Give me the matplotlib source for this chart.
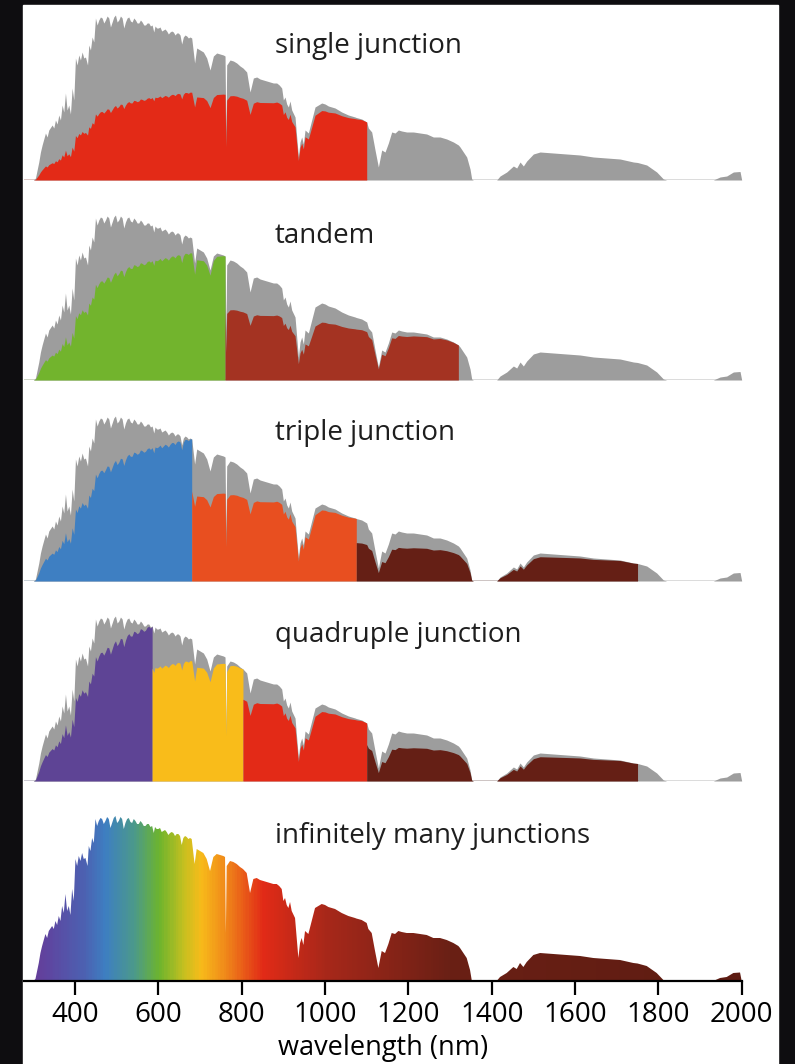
import numpy as np
import matplotlib
matplotlib.use("Agg")
import matplotlib.pyplot as plt
from matplotlib.colors import LinearSegmentedColormap
from matplotlib.patches import Rectangle, Polygon

plt.rcParams['font.family'] = ['Open Sans', 'DejaVu Sans']

# Solar spectrum (wavelength in nm, irradiance in arb. units)
wavelength = [278, 300, 305, 313, 317, 321, 329, 333, 337, 345, 349, 353, 357, 361, 365,
              369, 373, 377, 381, 385, 389, 393, 397, 401, 405, 409, 413, 417, 421, 425,
              430, 433, 437, 441, 445, 449, 453, 457, 461, 465, 469, 473, 477, 481, 485,
              489, 493, 497, 501, 505, 509, 513, 517, 521, 525, 529, 533, 537, 541, 545,
              549, 553, 557, 561, 565, 569, 573, 577, 581, 585, 589, 592, 596, 600, 604,
              608, 612, 616, 620, 624, 628, 632, 636, 640, 644, 648, 652, 656, 660, 664,
              668, 672, 676, 680, 687, 692, 700, 708, 716, 724, 732, 740, 748, 756, 760,
              762, 764, 772, 780, 788, 796, 803, 812, 820, 828, 836, 844, 852, 860, 868,
              876, 884, 890, 896, 900, 904, 908, 912, 916, 920, 928, 936, 940, 944, 948,
              952, 960, 968, 976, 984, 992, 1000, 1008, 1024, 1040, 1056, 1072, 1075, 1088, 1100,
              1104, 1112, 1120, 1128, 1136, 1144, 1152, 1160, 1168, 1176, 1184, 1196, 1212, 1228, 1244,
              1260, 1276, 1292, 1308, 1320, 1324, 1340, 1348, 1352, 1356, 1412, 1420, 1436, 1452, 1460,
              1468, 1476, 1484, 1500, 1516, 1548, 1580, 1612, 1644, 1676, 1708, 1740, 1750, 1772, 1796,
              1812, 1820, 1932, 1948, 1964, 1980, 1996, 2000]
irradiance = [0, 0, 0.02, 0.18, 0.28, 0.35, 0.47, 0.43, 0.50, 0.55, 0.52, 0.60, 0.56, 0.65, 0.60,
              0.75, 0.68, 0.87, 0.70, 0.75, 0.66, 0.92, 0.80, 1.22, 1.15, 1.25, 1.20, 1.28, 1.22, 1.23,
              1.15, 1.35, 1.30, 1.43, 1.38, 1.62, 1.55, 1.60, 1.63, 1.62, 1.57, 1.60, 1.64, 1.62, 1.53,
              1.58, 1.63, 1.65, 1.58, 1.60, 1.64, 1.62, 1.52, 1.58, 1.62, 1.63, 1.59, 1.58, 1.62, 1.60,
              1.57, 1.57, 1.60, 1.58, 1.55, 1.55, 1.57, 1.57, 1.54, 1.55, 1.48, 1.54, 1.52, 1.52, 1.53,
              1.49, 1.50, 1.51, 1.49, 1.46, 1.48, 1.49, 1.48, 1.45, 1.47, 1.47, 1.45, 1.36, 1.43, 1.45,
              1.44, 1.42, 1.43, 1.42, 1.17, 1.32, 1.30, 1.28, 1.22, 1.10, 1.24, 1.27, 1.26, 1.25, 1.24,
              0.48, 1.15, 1.20, 1.19, 1.17, 1.14, 1.12, 1.08, 0.88, 1.02, 1.03, 1.01, 1.00, 0.99, 0.98,
              0.97, 0.97, 0.95, 0.92, 0.80, 0.83, 0.76, 0.73, 0.79, 0.70, 0.63, 0.23, 0.38, 0.43, 0.36,
              0.50, 0.47, 0.60, 0.73, 0.75, 0.77, 0.76, 0.74, 0.72, 0.68, 0.65, 0.63, 0.625, 0.61, 0.58,
              0.52, 0.48, 0.30, 0.13, 0.30, 0.28, 0.37, 0.48, 0.47, 0.50, 0.49, 0.48, 0.48, 0.47, 0.46,
              0.43, 0.43, 0.41, 0.38, 0.35, 0.33, 0.23, 0.11, 0.01, 0, 0, 0.04, 0.08, 0.14, 0.12,
              0.18, 0.14, 0.19, 0.26, 0.28, 0.27, 0.26, 0.25, 0.23, 0.22, 0.21, 0.18, 0.175, 0.15, 0.08,
              0.01, 0, 0, 0.03, 0.04, 0.08, 0.085, 0]

# Panels: title, band-gap edges (nm) of each junction, colour of each junction
titles = ["single junction", "tandem", "triple junction", "quadruple junction",
          "infinitely many junctions"]
gap_edges = [[1100],
             [760, 1320],
             [680, 1075, 1750],
             [585, 803, 1100, 1750]]
gap_colors = [["#e32a17"],
              ["#72b42d", "#a43322"],
              ["#3e7fc2", "#e84f20", "#651f15"],
              ["#5e4495", "#f9bc1a", "#e32a17", "#651f15"]]

# Colour along the wavelength axis for the last panel
grad_wl = [278, 330, 420, 470, 540, 600, 660, 700, 760, 850, 1000, 1300, 2000]
grad_colors = ["#6a3a96", "#5f45a0", "#4c62b2", "#3e7fc2", "#4c9a8a", "#6db52e",
               "#c8c020", "#f8bb1a", "#f0881a", "#e22b17", "#a8281a", "#6a2015", "#5e1c12"]

wl = np.array(wavelength, dtype=float)
spec = np.array(irradiance)
GRAY = "#9d9d9d"

fig = plt.figure(figsize=(7.95, 10.64), dpi=100, facecolor="#0e0d10")
fig.patches.append(Rectangle((23 / 795, 0), 755 / 795, 1059 / 1064,
                             transform=fig.transFigure, color="white", zorder=-10))

baselines = [180, 380, 581, 781, 981]
label_y = [1.27, 1.37, 1.41, 1.39, 1.38]
left = 24.2 / 795
width = (741.7 - 24.2) / 795

for k, title in enumerate(titles):
    b = baselines[k]
    ax = fig.add_axes([left, 1 - b / 1064, width, 195 / 1064])
    ax.set_xlim(278, 2000)
    ax.set_ylim(0, 1.95)
    ax.patch.set_alpha(0)
    for s in ["top", "left", "right"]:
        ax.spines[s].set_visible(False)
    ax.set_yticks([])

    if k < 4:
        ax.spines["bottom"].set_visible(False)
        ax.set_xticks([])
        ax.axhline(0, color="#d6d6d6", lw=1.2, zorder=1)
        ax.fill_between(wl, 0, spec, color=GRAY, lw=0, zorder=2)
        lo = 278
        for edge, col in zip(gap_edges[k], gap_colors[k]):
            m = (wl >= lo) & (wl <= edge)
            # photon energy limited by band gap: only lambda/lambda_gap is converted
            ax.fill_between(wl[m], 0, spec[m] * wl[m] / edge, color=col, lw=0, zorder=3)
            ax.plot([lo, edge], [0, 0], color=col, lw=1.0, alpha=0.6, zorder=3)
            lo = edge
    else:
        pos = [(w - 278) / (2000 - 278) for w in grad_wl]
        cmap = LinearSegmentedColormap.from_list("spec", list(zip(pos, grad_colors)))
        img = ax.imshow(np.linspace(0, 1, 600)[None, :], extent=(278, 2000, 0, 1.95),
                        aspect="auto", cmap=cmap, origin="lower", zorder=2)
        poly = Polygon(np.column_stack([wl, spec]), closed=True, facecolor="none",
                       edgecolor="none", transform=ax.transData)
        ax.add_patch(poly)
        img.set_clip_path(poly)
        ax.spines["bottom"].set_linewidth(1.6)
        ax.spines["bottom"].set_zorder(5)
        ax.set_xticks([400, 600, 800, 1000, 1200, 1400, 1600, 1800, 2000])
        ax.tick_params(axis="x", direction="out", length=10, width=1.6, labelsize=20,
                       pad=4.5, colors="black")

    ax.text(880, label_y[k], title, fontsize=20, color="#1e1e1e", ha="left",
            va="baseline", zorder=6)

fig.text(383 / 795, 1 - 1048 / 1064, "wavelength (nm)", fontsize=19.5,
         ha="center", va="center", color="black")

fig.savefig("out.png", dpi=100, facecolor=fig.get_facecolor())
